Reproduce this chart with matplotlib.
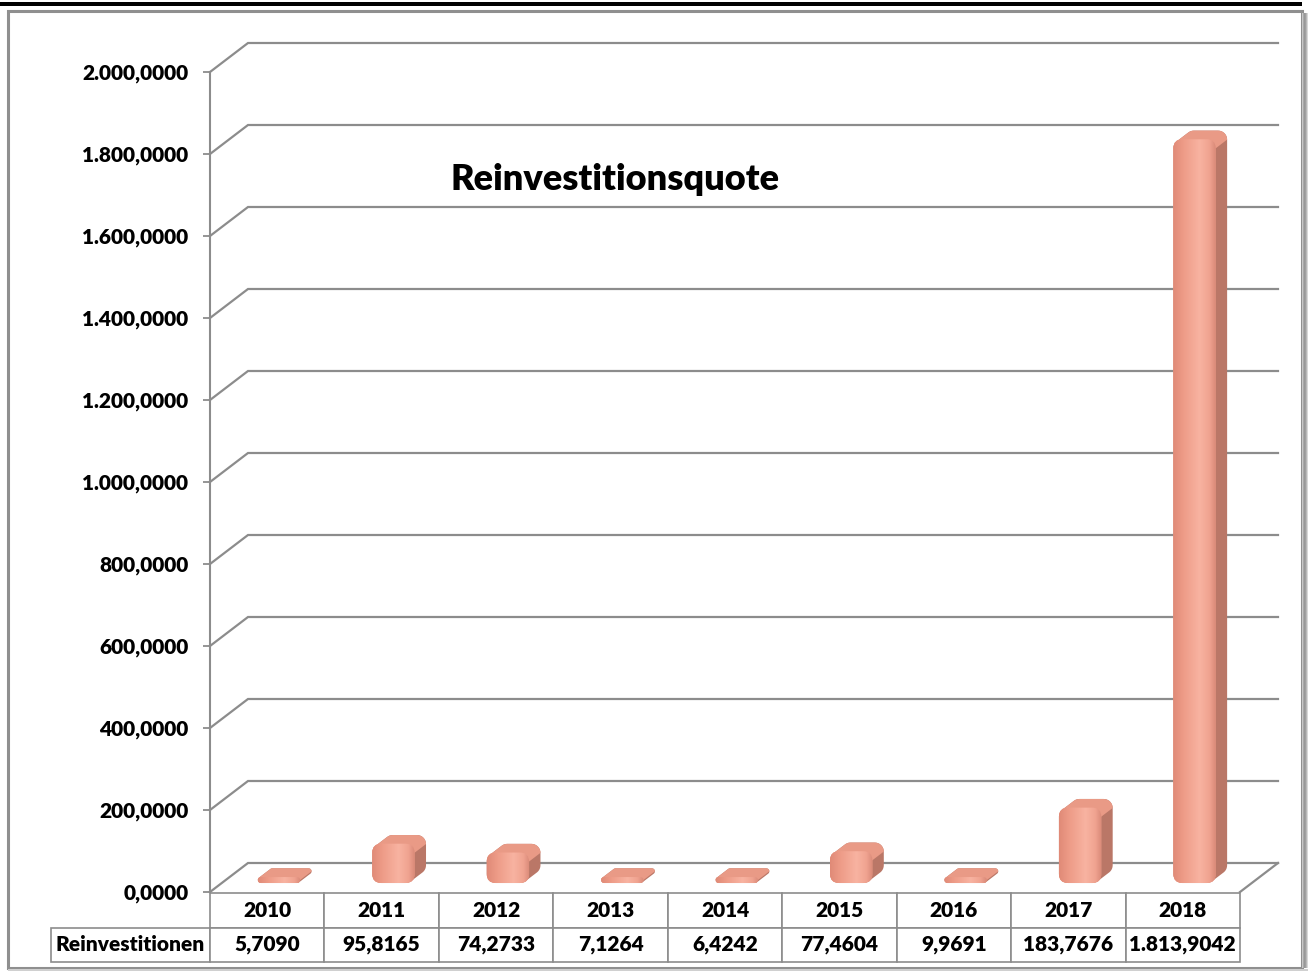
import numpy as np
import matplotlib
matplotlib.use('Agg')
import matplotlib.pyplot as plt
from matplotlib.patches import FancyBboxPatch, Polygon, Rectangle
from matplotlib.transforms import IdentityTransform
from matplotlib.colors import LinearSegmentedColormap

# ---------------- data ----------------
years = ['2010', '2011', '2012', '2013', '2014', '2015', '2016', '2017', '2018']
values = [5.7090, 95.8165, 74.2733, 7.1264, 6.4242, 77.4604, 9.9691, 183.7676, 1813.9042]
row_label = 'Reinvestitionen'
title = 'Reinvestitionsquote'
y_ticks = [0, 200, 400, 600, 800, 1000, 1200, 1400, 1600, 1800, 2000]


def de_fmt(v, dec=4):
    s = f"{v:,.{dec}f}"
    return s.replace(',', 'X').replace('.', ',').replace('X', '.')


FONT = ['Lato', 'DejaVu Sans']
plt.rcParams['font.family'] = FONT
WEIGHT = 800

W, H = 1310, 971
fig = plt.figure(figsize=(W / 100, H / 100), dpi=100)
fig.patch.set_facecolor('white')

# front plane of the 3D plot in pixels (from top)
L, R, B, T = 210, 1240, 892, 72
ax = fig.add_axes([L / W, 1 - B / H, (R - L) / W, (B - T) / H])
ax.set_xlim(0, len(years))
ax.set_ylim(0, 2000)
ax.set_autoscale_on(False)
ax.set_facecolor('none')
grid_c = '#8c8c8c'
for s in ['top', 'right', 'bottom']:
    ax.spines[s].set_visible(False)
ax.spines['left'].set_color(grid_c)
ax.spines['left'].set_linewidth(1.5)
ax.set_xticks([])
ax.set_yticks(y_ticks)
ax.set_yticklabels([de_fmt(v) for v in y_ticks])
ax.tick_params(axis='y', length=5, width=1.3, color=grid_c, pad=10.5,
               labelsize=15, labelcolor='black')
for lbl in ax.get_yticklabels():
    lbl.set_fontweight(WEIGHT)

n = len(years)
# depth of the plot box, in data units
DX = 38 / (R - L) * n
DY = 29 / (B - T) * 2000

# gridlines on left wall + back wall
for v in y_ticks:
    ax.plot([0, DX, n + DX], [v, v + DY, v + DY], color=grid_c, lw=1.6,
            clip_on=False, zorder=1, solid_joinstyle='miter')
# floor right edge
ax.plot([n, n + DX], [0, DY], color=grid_c, lw=1.6, clip_on=False, zorder=1)

# ---------------- bars (pseudo 3D) ----------------
tr = ax.transData
f_front = 0.31
f_depth = 0.30
bar_w = 0.37
min_face_px = 6.0   # bevel keeps a visible body even for tiny values


def rounded_pts(x0, y0, x1, y1, r, k=10):
    pts = []
    corners = [(x1 - r, y1 - r, 0, 90), (x0 + r, y1 - r, 90, 180),
               (x0 + r, y0 + r, 180, 270), (x1 - r, y0 + r, 270, 360)]
    for cx, cy, a0, a1 in corners:
        a = np.radians(np.linspace(a0, a1, k))
        pts += list(zip(cx + r * np.cos(a), cy + r * np.sin(a)))
    return np.array(pts)


def hull(points):
    pts = sorted(set(map(tuple, np.round(points, 3))))
    if len(pts) < 3:
        return np.array(pts)

    def cross(o, a, b):
        return (a[0] - o[0]) * (b[1] - o[1]) - (a[1] - o[1]) * (b[0] - o[0])
    lower, upper = [], []
    for p in pts:
        while len(lower) >= 2 and cross(lower[-2], lower[-1], p) <= 0:
            lower.pop()
        lower.append(p)
    for p in reversed(pts):
        while len(upper) >= 2 and cross(upper[-2], upper[-1], p) <= 0:
            upper.pop()
        upper.append(p)
    return np.array(lower[:-1] + upper[:-1])


grad_cmap = LinearSegmentedColormap.from_list(
    'face', [(0.0, '#E08A77'), (0.25, '#EE9C88'), (0.62, '#F8B3A1'),
             (0.85, '#F0A390'), (1.0, '#D88977')])
grad = np.linspace(0, 1, 256)[None, :]

side_c = '#BA7767'
top_c = '#E99A86'
ident = IdentityTransform()

for i, v in enumerate(values):
    cx = i + 0.5 + f_front * DX
    xa, xb = cx - bar_w / 2, cx + bar_w / 2
    ya, yb = f_front * DY, v + f_front * DY
    (x0, y0), (x1, y1) = tr.transform([(xa, ya), (xb, yb)])
    y1 = max(y1, y0 + min_face_px)
    (p0x, p0y), (p1x, p1y) = tr.transform([(0, 0), (f_depth * DX, f_depth * DY)])
    ddx, ddy = p1x - p0x, p1y - p0y
    r = min(9.0, (y1 - y0) / 2, (x1 - x0) / 2)
    front = rounded_pts(x0, y0, x1, y1, r)
    back = front + np.array([ddx, ddy])
    sil = hull(np.vstack([front, back]))
    ax.add_patch(Polygon(sil, closed=True, transform=ident, facecolor=side_c,
                         edgecolor='none', zorder=3, clip_on=False))
    # top face
    sel_f = front[front[:, 1] >= y1 - r - 0.01]
    sel_b = back[back[:, 1] >= y1 + ddy - r - 0.01]
    top = hull(np.vstack([sel_f, sel_b, [[x1 - r * 0.2, y1 - r * 0.6]]]))
    ax.add_patch(Polygon(top, closed=True, transform=ident, facecolor=top_c,
                         edgecolor='none', zorder=3.1, clip_on=False))
    # front face with gradient
    face = FancyBboxPatch((x0, y0), x1 - x0, y1 - y0,
                          boxstyle=f"round,pad=0,rounding_size={max(r, 0.01)}",
                          transform=ident, facecolor='#EE9E8A', edgecolor='none',
                          zorder=3.2, clip_on=False)
    ax.add_patch(face)
    yb_vis = tr.inverted().transform((x1, y1))[1]
    img = ax.imshow(grad, cmap=grad_cmap, extent=[xa, xb, ya, yb_vis],
                    aspect='auto', zorder=3.3, interpolation='bilinear')
    img.set_clip_path(face)

ax.set_xlim(0, n)
ax.set_ylim(0, 2000)

# ---------------- data table (drawn in axes coordinates) ----------------
ta = ax.transAxes
pw, ph = (R - L), (B - T)
row1_top, row1_bot, row2_bot = 893, 927.5, 962
lab_left = 51


def ay(py):
    return (B - py) / ph


def cell(xl, xr, yt, yb, text):
    ax.add_patch(Rectangle((xl, ay(yb)), xr - xl, ay(yt) - ay(yb), transform=ta,
                           facecolor='white', edgecolor=grid_c, linewidth=1.2,
                           clip_on=False, zorder=4))
    ax.text((xl + xr) / 2, (ay(yt) + ay(yb)) / 2, text, transform=ta,
            ha='center', va='center', fontsize=15, fontweight=WEIGHT,
            color='black', clip_on=False, zorder=5)


for j, y in enumerate(years):
    cell(j / n, (j + 1) / n, row1_top, row1_bot, y)
cell(-(L - lab_left) / pw, 0, row1_bot, row2_bot, row_label)
for j, v in enumerate(values):
    cell(j / n, (j + 1) / n, row1_bot, row2_bot, de_fmt(v))

# ---------------- title ----------------
fig.text(615 / W, 1 - 179 / H, title, ha='center', va='center', fontsize=26,
         fontweight=WEIGHT, color='black')

# ---------------- frame ----------------
fig.add_artist(Rectangle((0, H - 6), 1302, 4.5, transform=ident,
                         facecolor='black', edgecolor='none'))
fig.add_artist(Rectangle((7.5, H - 968), 1294, 957, transform=ident,
                         facecolor='none', edgecolor='#8f8f8f', linewidth=2.2))
for k, c in enumerate(['#c8c8c8', '#a8a8a8', '#989898', '#a0a0a0', '#b8b8b8', '#d8d8d8']):
    fig.add_artist(Rectangle((1302 + k, H - 968), 1, 955, transform=ident,
                             facecolor=c, edgecolor='none'))
fig.add_artist(Rectangle((7.5, 0), 1300, 2.5, transform=ident,
                         facecolor='#d0d0d0', edgecolor='none'))

fig.savefig('out.png', dpi=100, facecolor='white')
